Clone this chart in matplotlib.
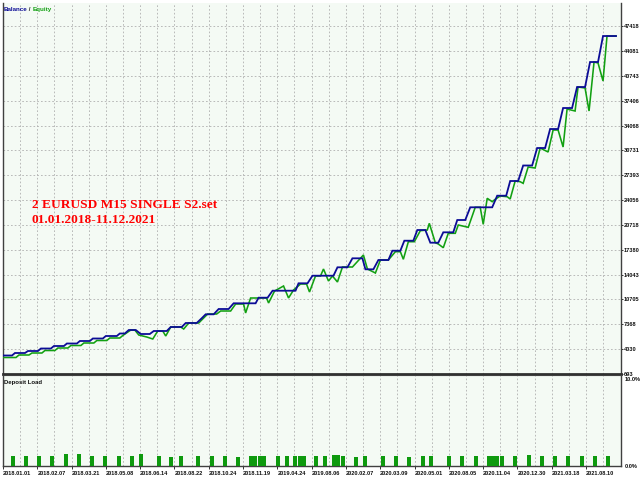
import matplotlib
matplotlib.use("Agg")
import matplotlib.pyplot as plt
import numpy as np

# ---------------- data (chart time index, account value in $) ----------------
balance_x = [2, 11, 14, 24, 27, 37, 40, 50, 53, 63, 66, 76, 79, 89, 92, 102, 105, 116, 119, 124,
             128, 135, 140, 149, 153, 166, 170, 181, 185, 196, 201, 205, 213, 218, 228, 233, 255,
             258, 267, 272, 295, 298, 307, 312, 333, 337, 347, 352, 362, 365, 373, 378, 388, 392,
             400, 404, 413, 417, 425, 430, 438, 443, 453, 457, 465, 470, 492, 497, 506, 510, 518,
             523, 532, 537, 545, 550, 558, 563, 572, 577, 585, 590, 598, 603, 616]
balance_v = [3178, 3178, 3513, 3513, 3782, 3782, 4118, 4118, 4453, 4453, 4789, 4789, 5125, 5125,
             5461, 5461, 5796, 5796, 6132, 6132, 6602, 6602, 6065, 6065, 6468, 6468, 7005, 7005,
             7542, 7542, 8174, 8711, 8711, 9423, 9423, 10188, 10188, 10940, 10940, 11880, 11880,
             12874, 12874, 13894, 13894, 15022, 15022, 16231, 16231, 14754, 14754, 16003, 16003,
             17252, 17252, 18595, 18595, 20032, 20032, 18327, 18327, 19723, 19723, 21375, 21375,
             23081, 23081, 24639, 24639, 26613, 26613, 28695, 28695, 31045, 31045, 33597, 33597,
             36417, 36417, 39237, 39237, 42595, 42595, 46086, 46086]

equity_x = [2, 15, 18, 28, 31, 41, 44, 54, 57, 67, 70, 80, 83, 93, 96, 106, 109, 119, 122, 130,
            134, 138, 146, 152, 157, 162, 165, 170, 180, 183, 188, 198, 202, 207, 216, 220, 230,
            235, 243, 245, 250, 266, 268, 274, 283, 288, 293, 300, 306, 309, 315, 320, 323, 328,
            332, 337, 342, 352, 363, 367, 375, 380, 388, 395, 400, 403, 408, 414, 420, 427, 429,
            435, 438, 443, 448, 455, 458, 468, 475, 480, 483, 487, 492, 495, 500, 507, 510, 515,
            520, 523, 528, 535, 540, 548, 553, 558, 563, 567, 575, 578, 585, 589, 594, 598, 603,
            607, 616]
equity_v = [2909, 2909, 3245, 3245, 3513, 3513, 3849, 3849, 4185, 4185, 4521, 4521, 4856, 4856,
            5192, 5192, 5528, 5528, 5864, 6602, 6602, 5930, 5662, 5393, 6468, 6468, 5796, 7005,
            7005, 6737, 7542, 7542, 8080, 8750, 8750, 9154, 9154, 10094, 10094, 8888, 10900, 10900,
            10228, 11840, 12511, 10900, 11974, 12780, 12780, 11706, 13854, 13854, 14795, 13183,
            13854, 13049, 15063, 15063, 16675, 14795, 14257, 16003, 16003, 17118, 17118, 16097,
            18461, 18461, 19938, 20032, 20932, 18327, 18152, 17655, 19589, 19589, 20704, 20395,
            23081, 23081, 20798, 24290, 23833, 24156, 24598, 24504, 24196, 26613, 26519, 26300,
            28493, 28359, 31045, 30508, 33462, 33462, 31179, 36283, 36014, 39237, 39103, 36014,
            42595, 42460, 40043, 46086, 46086]

load_x = [12, 25, 38, 51, 65, 78, 91, 104, 118, 131, 140, 158, 170, 180, 197, 211, 224, 237,
          250, 254, 259, 263, 277, 286, 294, 299, 303, 316, 325, 334, 338, 343, 356, 365, 383,
          396, 409, 423, 431, 449, 462, 476, 489, 493, 497, 502, 515, 529, 542, 555, 568, 582,
          595, 608]
load_pct = [1.18, 1.18, 1.18, 1.18, 1.34, 1.34, 1.18, 1.18, 1.18, 1.18, 1.34, 1.18, 1.07, 1.18,
            1.18, 1.18, 1.18, 1.07, 1.18, 1.18, 1.18, 1.18, 1.1, 1.1, 1.2, 1.2, 1.1, 1.1,
            1.1, 1.25, 1.3, 1.15, 1.07, 1.2, 1.2, 1.2, 1.07, 1.1, 1.2, 1.2, 1.2, 1.2, 1.2, 1.2,
            1.2, 1.2, 1.2, 1.3, 1.15, 1.2, 1.2, 1.2, 1.2, 1.2]

y_tick_labels = ["693", "4030", "7368", "10705", "14043", "17380", "20718", "24056", "27393",
                 "30731", "34068", "37406", "40743", "44081", "47418"]
x_tick_labels = ["2018.01.01", "2018.02.07", "2018.03.21", "2018.05.08", "2018.06.14",
                 "2018.08.22", "2018.10.24", "2018.11.19", "2019.04.24", "2019.08.06",
                 "2020.02.07", "2020.03.09", "2020.05.01", "2020.08.05", "2020.11.04",
                 "2020.12.30", "2021.03.18", "2021.08.10"]
legend_parts = ["Balance", " / ", "Equity"]
title_lines = ["2 EURUSD M15 SINGLE S2.set", "01.01.2018-11.12.2021"]

# ---------------- figure ----------------
W, H = 640, 480
fig = plt.figure(figsize=(6.4, 4.8), dpi=100)
fig.patch.set_facecolor("white")
BG = "#F4FAF4"
GRID = "#AFAFAF"
SMALL = ["Liberation Sans Narrow", "Liberation Sans", "DejaVu Sans"]
FS = 4.1
TXT = "#101010"

def fx(px):
    return px / W

def fy(py):
    return 1 - py / H

L, R = 3, 621
ax = fig.add_axes([fx(L), fy(374), fx(R - L), (374 - 3) / H])
axb = fig.add_axes([fx(L), fy(466), fx(R - L), (466 - 375) / H])

ymin = 693.0
ystep = 3337.5
ymax = ymin + ystep * (371 / 24.85)
xticks = np.linspace(2, 2 + 34.35 * 17, 18)
xminor = xticks + 17.17

for a in (ax, axb):
    a.set_facecolor(BG)
    a.set_xlim(L, R)
    a.set_xticks(xticks)
    a.set_xticks(xminor, minor=True)
    a.grid(True, which="both", axis="x", color=GRID, lw=0.6, ls=(0, (2, 2.5)))
    a.set_axisbelow(True)
    for s in a.spines.values():
        s.set_color("#404040")
        s.set_linewidth(1.0)
    a.spines["top"].set_visible(False)
    a.tick_params(which="minor", length=0)

# main panel
ax.plot(equity_x, equity_v, color="#12A012", lw=1.15, solid_joinstyle="miter", zorder=3)
ax.plot(balance_x, balance_v, color="#0C0C96", lw=1.3, solid_joinstyle="miter", zorder=4)
ax.set_ylim(ymin, ymax)
ax.set_yticks([ymin + ystep * k for k in range(len(y_tick_labels))])
ax.set_yticklabels(y_tick_labels)
ax.grid(True, which="major", axis="y", color=GRID, lw=0.6, ls=(0, (2, 2.5)))
ax.yaxis.tick_right()
ax.tick_params(axis="y", length=1.5, width=0.6, pad=0.8, labelsize=FS, colors=TXT)
for t in ax.get_yticklabels():
    t.set_family(SMALL)
    t.set_fontweight("bold")
ax.tick_params(axis="x", length=0, labelbottom=False)
ax.spines["bottom"].set_linewidth(2.0)
ax.spines["bottom"].set_color("#303030")

# deposit load panel
axb.bar(load_x, load_pct, width=4, color="#0E9A0E", zorder=3)
axb.set_ylim(0, 10 * 91 / 87)
axb.set_yticks([0, 10])
axb.set_yticklabels(["0.0%", "10.0%"])
axb.yaxis.tick_right()
axb.tick_params(axis="y", length=0, pad=2.5, labelsize=FS, colors=TXT)
for t in axb.get_yticklabels():
    t.set_family(SMALL)
    t.set_fontweight("bold")
axb.set_xticklabels(x_tick_labels)
axb.tick_params(axis="x", which="major", length=2, width=0.6, pad=1.5, labelsize=FS,
                colors=TXT)
for t in axb.get_xticklabels():
    t.set_family(SMALL)
    t.set_ha("left")
    t.set_fontweight("bold")
axb.spines["top"].set_visible(True)
axb.spines["top"].set_linewidth(0.8)

# panel captions
renderer = fig.canvas.get_renderer()
xpos = 3.5
for part, col in zip(legend_parts, ["#0C0C96", "#202020", "#12A012"]):
    t = fig.text(fx(xpos), fy(11), part, color=col, fontsize=4.5, family=SMALL,
                 fontweight="bold")
    xpos += t.get_window_extent(renderer).width
fig.text(fx(4), fy(384), "Deposit Load", color=TXT, fontsize=4.3, family=SMALL,
         fontweight="bold")

# red annotation
fig.text(fx(32), fy(208), title_lines[0], color="#FF0000", fontsize=9.6,
         family=["Liberation Serif", "DejaVu Serif"], fontweight="bold", va="baseline")
fig.text(fx(32), fy(223), title_lines[1], color="#FF0000", fontsize=9.6,
         family=["Liberation Serif", "DejaVu Serif"], fontweight="bold", va="baseline")

fig.savefig("out.png", dpi=100, facecolor="white")
